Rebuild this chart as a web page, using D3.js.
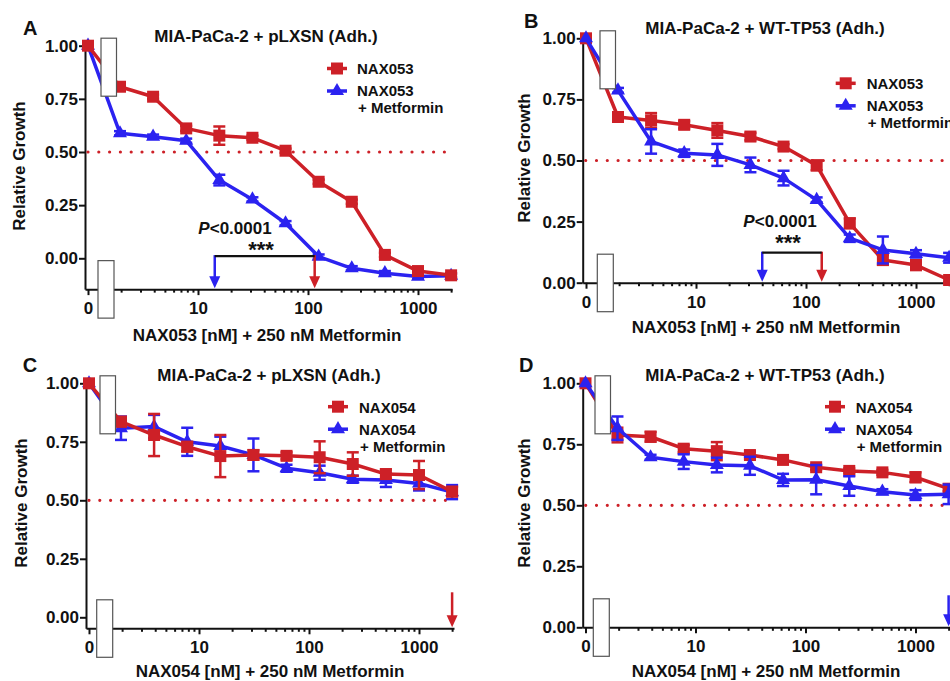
<!DOCTYPE html>
<html>
<head>
  <meta charset="utf-8">
  <script src="https://d3js.org/d3.v7.min.js"></script>
  <style>
    body { margin: 0; background: #fff; }
    svg text { font-family: "Liberation Sans", Arial, sans-serif; font-weight: bold; fill: #111; }
    .axis path, .axis line { stroke: #111; stroke-width: 2px; }
    .axis text { font-size: 17px; font-family: "Liberation Sans", Arial, sans-serif; font-weight: bold; fill: #111; }
  </style>
</head>
<body>
<div id="chart"></div>
<script>
// doses in nM, 0 = vehicle (drawn at the "0" tick of the broken log axis)
var doses = [0, 1.953, 3.906, 7.8125, 15.625, 31.25, 62.5, 125, 250, 500, 1000, 2000];

// A: NAX053, MIA-PaCa-2 + pLXSN
var aRed     = [1.00, 0.807, 0.760, 0.611, 0.577, 0.567, 0.506, 0.360, 0.266, 0.016, -0.060, -0.080];
var aRedErr  = [0, 0.01, 0.01, 0.012, 0.043, 0.01, 0.01, 0.01, 0.01, 0.01, 0.01, 0.01];
var aBlue    = [1.00, 0.588, 0.572, 0.553, 0.368, 0.277, 0.165, 0.008, -0.047, -0.070, -0.086, -0.082];
var aBlueErr = [0, 0.01, 0.01, 0.01, 0.025, 0.01, 0.01, 0.01, 0.01, 0.01, 0.01, 0.01];

// B: NAX053, MIA-PaCa-2 + WT-TP53
var bRed     = [1.00, 0.678, 0.664, 0.646, 0.623, 0.598, 0.557, 0.480, 0.243, 0.093, 0.072, 0.011];
var bRedErr  = [0, 0.01, 0.03, 0.015, 0.03, 0.015, 0.01, 0.02, 0.02, 0.02, 0.02, 0.01];
var bBlue    = [1.00, 0.787, 0.578, 0.530, 0.523, 0.482, 0.428, 0.339, 0.182, 0.134, 0.118, 0.102];
var bBlueErr = [0, 0.01, 0.05, 0.015, 0.045, 0.03, 0.03, 0.01, 0.015, 0.055, 0.015, 0.02];

// C: NAX054, MIA-PaCa-2 + pLXSN
var cRed     = [1.00, 0.836, 0.779, 0.729, 0.689, 0.694, 0.690, 0.684, 0.655, 0.612, 0.608, 0.537];
var cRedErr  = [0, 0.02, 0.09, 0.02, 0.09, 0.02, 0.015, 0.068, 0.05, 0.02, 0.06, 0.02];
var cBlue    = [1.00, 0.808, 0.815, 0.750, 0.732, 0.694, 0.637, 0.618, 0.590, 0.587, 0.572, 0.535];
var cBlueErr = [0, 0.05, 0.05, 0.06, 0.04, 0.07, 0.015, 0.03, 0.015, 0.03, 0.03, 0.03];

// D: NAX054, MIA-PaCa-2 + WT-TP53
var dRed     = [1.00, 0.788, 0.781, 0.732, 0.722, 0.706, 0.686, 0.656, 0.641, 0.635, 0.615, 0.568];
var dRedErr  = [0, 0.03, 0.02, 0.015, 0.037, 0.015, 0.01, 0.01, 0.01, 0.01, 0.02, 0.01];
var dBlue    = [1.00, 0.816, 0.697, 0.679, 0.665, 0.662, 0.604, 0.605, 0.579, 0.556, 0.542, 0.545];
var dBlueErr = [0, 0.048, 0.01, 0.03, 0.03, 0.037, 0.025, 0.06, 0.04, 0.01, 0.02, 0.04];

// IC50 arrows (nM), null = no arrow
var ic50Red  = [115, 139, 2000, null];
var ic50Blue = [14.2, 40, null, 2000];
var pText    = ["<0.0001", "<0.0001", null, null];
var stars    = ["***", "***", null, null];

var letters  = ["A", "B", "C", "D"];
var titles   = ["MIA-PaCa-2 + pLXSN (Adh.)", "MIA-PaCa-2 + WT-TP53 (Adh.)",
                "MIA-PaCa-2 + pLXSN (Adh.)", "MIA-PaCa-2 + WT-TP53 (Adh.)"];
var drugs    = ["NAX053", "NAX053", "NAX054", "NAX054"];
var xLabels  = ["NAX053 [nM] + 250 nM Metformin", "NAX053 [nM] + 250 nM Metformin",
                "NAX054 [nM] + 250 nM Metformin", "NAX054 [nM] + 250 nM Metformin"];
var yTitle   = "Relative Growth";
var yTicks   = [0, 0.25, 0.5, 0.75, 1.0];
var xMajor   = [1, 10, 100, 1000];
var xMajorLabels = ["0", "10", "100", "1000"];
var cutoff   = 0.5;

var red = "#cd2027", blue = "#2b22f0";

var series = [
  [aRed, aRedErr, aBlue, aBlueErr],
  [bRed, bRedErr, bBlue, bBlueErr],
  [cRed, cRedErr, cBlue, cBlueErr],
  [dRed, dRedErr, dBlue, dBlueErr]
];

// panel placement
var layout = [
  {xLeft: 85, xOne: 88, xEnd: 452, y0: 258.3, y1: 45.7, yMin: -0.145, redTop: true,
   brkTop: 13, brkBot: 10, letter: [23, 35], title: [266, 42], ylab: [25, 166], xlab: [267, 341],
   leg: [337, 68.5, 357, 74], arrow: 34, ptext: [235, 234], star: [261, 256.5]},
  {xLeft: 582.7, xOne: 586, xEnd: 960, y0: 282.7, y1: 38.3, yMin: 0, redTop: false,
   brkTop: 14, brkBot: 11.3, letter: [524, 28], title: [765, 34], ylab: [530, 158], xlab: [766, 333],
   leg: [845.7, 83.3, 866.7, 89], arrow: 31, ptext: [780, 227], star: [788, 250]},
  {xLeft: 86, xOne: 89, xEnd: 454, y0: 617.3, y1: 383.3, yMin: -0.047, redTop: true,
   brkTop: 11, brkBot: 7.7, letter: [22.7, 371.7], title: [269, 380.5], ylab: [26.7, 503], xlab: [270, 677],
   leg: [338, 406.7, 359, 412.7], arrow: 36},
  {xLeft: 582.7, xOne: 585.5, xEnd: 960, y0: 627.3, y1: 383.3, yMin: 0, redTop: false,
   brkTop: 9.5, brkBot: 7.8, letter: [519, 371.7], title: [765, 380.5], ylab: [530, 503], xlab: [766, 677],
   leg: [835, 406.7, 855.7, 412.7], arrow: 32}
];

var svg = d3.select("#chart").append("svg")
  .attr("width", 950)
  .attr("height", 681)
  .style("display", "block");

svg.append("rect").attr("width", 950).attr("height", 681).attr("fill", "#fff");

var dec = 110; // px per decade

function arrowDown(g, xp, top, bottom, color) {
  g.append("line")
    .attr("x1", xp).attr("x2", xp)
    .attr("y1", top).attr("y2", bottom - 8)
    .attr("stroke", color).attr("stroke-width", 2.5);
  g.append("path")
    .attr("d", "M" + (xp - 5.5) + "," + (bottom - 12) + "L" + (xp + 5.5) + "," + (bottom - 12) + "L" + xp + "," + bottom + "Z")
    .attr("fill", color);
}

layout.forEach(function(L, i) {
  var g = svg.append("g");

  var x = d3.scaleLog()
    .domain([Math.pow(10, (L.xLeft - L.xOne) / dec), Math.pow(10, (L.xEnd - L.xOne) / dec)])
    .range([L.xLeft, L.xEnd]);
  var y = d3.scaleLinear().domain([0, 1]).range([L.y0, L.y1]);
  var axisY = y(L.yMin);
  var yAx = d3.scaleLinear().domain([L.yMin, 1]).range([axisY, L.y1]);
  var xPos = function(d) { return d === 0 ? x(1) : x(d); };

  // minor log ticks
  var minor = [];
  [1, 10, 100, 1000].forEach(function(m) {
    for (var k = 2; k <= 9; k++) if (x(k * m) <= L.xEnd + 1) minor.push(k * m);
  });

  g.append("g")
    .attr("class", "axis")
    .attr("transform", "translate(0," + axisY + ")")
    .call(d3.axisBottom(x).tickValues(minor).tickSize(3.5).tickFormat(""))
    .select(".domain").remove();

  g.append("g")
    .attr("class", "axis")
    .attr("transform", "translate(0," + axisY + ")")
    .call(d3.axisBottom(x).tickValues(xMajor).tickFormat(function(d, j) { return xMajorLabels[j]; })
      .tickSize(6).tickSizeOuter(0).tickPadding(7));

  g.append("g")
    .attr("class", "axis")
    .attr("transform", "translate(" + L.xLeft + ",0)")
    .call(d3.axisLeft(yAx).tickValues(yTicks).tickFormat(d3.format(".2f"))
      .tickSize(6).tickSizeOuter(0).tickPadding(1));

  // 50% line
  g.append("line")
    .attr("x1", L.xLeft + 3).attr("x2", L.xEnd)
    .attr("y1", y(cutoff)).attr("y2", y(cutoff))
    .attr("stroke", red).attr("stroke-width", 3.2)
    .attr("stroke-linecap", "round")
    .attr("stroke-dasharray", "0,10.8");

  var s = series[i];
  var redPts = doses.map(function(d, j) { return {dose: d, v: s[0][j], e: s[1][j]}; });
  var bluePts = doses.map(function(d, j) { return {dose: d, v: s[2][j], e: s[3][j]}; });

  var line = d3.line().x(function(d) { return xPos(d.dose); }).y(function(d) { return y(d.v); });

  function drawSeries(pts, color, sym, size) {
    var sg = g.append("g");
    sg.append("path").datum(pts)
      .attr("d", line).attr("fill", "none")
      .attr("stroke", color).attr("stroke-width", 3.5).attr("stroke-linejoin", "round");
    var eb = sg.selectAll(".eb").data(pts.filter(function(d) { return d.e > 0; })).enter().append("g");
    eb.append("line")
      .attr("x1", function(d) { return xPos(d.dose); }).attr("x2", function(d) { return xPos(d.dose); })
      .attr("y1", function(d) { return y(d.v - d.e); }).attr("y2", function(d) { return y(d.v + d.e); })
      .attr("stroke", color).attr("stroke-width", 2.5);
    [-1, 1].forEach(function(sgn) {
      eb.append("line")
        .attr("x1", function(d) { return xPos(d.dose) - 6; }).attr("x2", function(d) { return xPos(d.dose) + 6; })
        .attr("y1", function(d) { return y(d.v + sgn * d.e); }).attr("y2", function(d) { return y(d.v + sgn * d.e); })
        .attr("stroke", color).attr("stroke-width", 2.5);
    });
    sg.selectAll(".mk").data(pts).enter().append("path")
      .attr("d", d3.symbol().type(sym).size(size))
      .attr("transform", function(d) { return "translate(" + xPos(d.dose) + "," + y(d.v) + ")"; })
      .attr("fill", color);
  }

  if (L.redTop) {
    drawSeries(bluePts, blue, d3.symbolTriangle, 85);
    drawSeries(redPts, red, d3.symbolSquare, 144);
  } else {
    drawSeries(redPts, red, d3.symbolSquare, 144);
    drawSeries(bluePts, blue, d3.symbolTriangle, 85);
  }

  // axis-break boxes
  g.append("rect")
    .attr("x", L.xOne + L.brkTop).attr("y", L.y1 - 7.5)
    .attr("width", 15.5).attr("height", 58)
    .attr("fill", "#fff").attr("stroke", "#555").attr("stroke-width", 1.2);
  g.append("rect")
    .attr("x", L.xOne + L.brkBot).attr("y", axisY - 28.5)
    .attr("width", 16).attr("height", 57.5)
    .attr("fill", "#fff").attr("stroke", "#555").attr("stroke-width", 1.2);

  // IC50 arrows
  var top = axisY - L.arrow;
  if (ic50Blue[i] !== null) arrowDown(g, x(ic50Blue[i]), top, axisY - 1, blue);
  if (ic50Red[i] !== null) arrowDown(g, x(ic50Red[i]), top, axisY - 1, red);
  if (ic50Blue[i] !== null && ic50Red[i] !== null) {
    g.append("line")
      .attr("x1", x(ic50Blue[i])).attr("x2", x(ic50Red[i]))
      .attr("y1", top + 1).attr("y2", top + 1)
      .attr("stroke", "#111").attr("stroke-width", 2.2);
  }
  if (pText[i]) {
    var pt = g.append("text")
      .attr("x", L.ptext[0]).attr("y", L.ptext[1])
      .attr("text-anchor", "middle").style("font-size", "17px");
    pt.append("tspan").style("font-style", "italic").text("P");
    pt.append("tspan").text(pText[i]);
    g.append("text")
      .attr("x", L.star[0]).attr("y", L.star[1])
      .attr("text-anchor", "middle").style("font-size", "22px")
      .text(stars[i]);
  }

  // legend
  var lx = L.leg[0], ly = L.leg[1], tx = L.leg[2], ty = L.leg[3];
  g.append("line").attr("x1", lx - 10).attr("x2", lx + 10).attr("y1", ly).attr("y2", ly)
    .attr("stroke", red).attr("stroke-width", 3.5);
  g.append("path").attr("d", d3.symbol().type(d3.symbolSquare).size(144))
    .attr("transform", "translate(" + lx + "," + ly + ")").attr("fill", red);
  g.append("line").attr("x1", lx - 10).attr("x2", lx + 10).attr("y1", ly + 22.5).attr("y2", ly + 22.5)
    .attr("stroke", blue).attr("stroke-width", 3.5);
  g.append("path").attr("d", d3.symbol().type(d3.symbolTriangle).size(85))
    .attr("transform", "translate(" + lx + "," + (ly + 22.5) + ")").attr("fill", blue);
  g.append("text").attr("x", tx).attr("y", ty).style("font-size", "15px").text(drugs[i]);
  g.append("text").attr("x", tx).attr("y", ty + 22).style("font-size", "15px").text(drugs[i]);
  g.append("text").attr("x", tx + 1).attr("y", ty + 39).style("font-size", "15px").text("+ Metformin");

  // titles and labels
  g.append("text").attr("x", L.letter[0]).attr("y", L.letter[1])
    .style("font-size", "20px").text(letters[i]);
  g.append("text").attr("x", L.title[0]).attr("y", L.title[1])
    .attr("text-anchor", "middle").style("font-size", "17px").text(titles[i]);
  g.append("text").attr("x", L.xlab[0]).attr("y", L.xlab[1])
    .attr("text-anchor", "middle").style("font-size", "17px").text(xLabels[i]);
  g.append("text")
    .attr("transform", "translate(" + L.ylab[0] + "," + L.ylab[1] + ") rotate(-90)")
    .attr("text-anchor", "middle").style("font-size", "17px").text(yTitle);
});
</script>
</body>
</html>
